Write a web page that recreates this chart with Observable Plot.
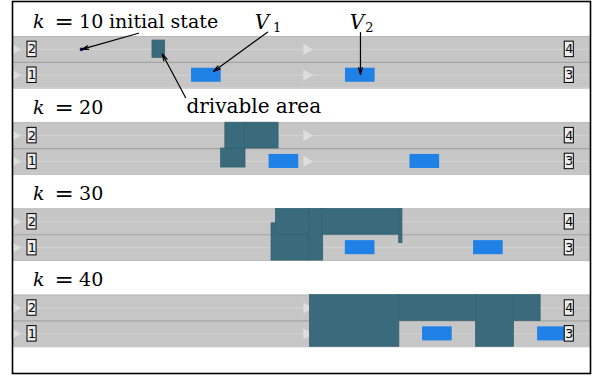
<!DOCTYPE html>
<html><head><meta charset="utf-8">
<script src="https://cdn.jsdelivr.net/npm/d3@7"></script>
<script src="https://cdn.jsdelivr.net/npm/@observablehq/plot@0.6"></script>
<style>body{margin:0;background:#fff}</style>
</head><body><div id="chart"></div>
<script>
// ---- data (road coordinates, metres) ----
const steps = [10, 20, 30, 40];
const laneIds = [1, 2];
const laneLabelLeft = ["1", "2"];
const laneLabelRight = ["3", "4"];
const laneWidth = 3.5;
const roadLength = 79;
const markerS = [0.3, 40.2];
const labelS = [2.67, 76.1];
const carLength = 4.05;
const carWidth = 1.9;
const v1Rear = [24.47, 35.07, 45.49, 56.05];
const v2Rear = [45.51, 54.33, 63.02, 71.77];
const initialS = 9.43;
const initialLane = 2;
// drivable area pieces
const areaStep = [10, 20, 20, 20, 30, 30, 30, 30, 30, 40, 40, 40, 40];
const areaS0 = [19.13, 28.51, 29.09, 31.79, 35.40, 35.99, 40.55, 42.33, 52.85, 40.64, 52.88, 63.34, 68.55];
const areaS1 = [20.87, 31.85, 31.79, 36.37, 40.55, 40.55, 42.47, 52.85, 53.30, 52.88, 63.34, 68.55, 72.19];
const areaL0 = [4.10, 0.92, 3.5, 3.5, 0, 3.5, 0, 3.5, 2.35, 0, 3.5, 0, 3.5];
const areaL1 = [6.45, 3.5, 7, 7, 5.05, 7, 7, 7, 7, 7, 7, 7, 7];

// ---- layout helpers ----
const panelGap = 11.68;
const base = k => 3.62 + (steps.length - 1 - steps.indexOf(k)) * panelGap;
const laneCenter = lane => (lane - 0.5) * laneWidth;
const roadTop = 2 * laneWidth;

const serif = "DejaVu Serif";
const rows = (arr1, arr2) => arr1.flatMap(a => arr2.map(b => ({a, b})));

const cars = steps.flatMap((k, i) => [
  {k, s: v1Rear[i]}, {k, s: v2Rear[i]}
]);
const areas = areaStep.map((k, i) => ({k, s0: areaS0[i], s1: areaS1[i], l0: areaL0[i], l1: areaL1[i]}));
const markers = steps.flatMap(k => laneIds.flatMap(l => markerS.map(s => ({k, l, s}))));
const labels = steps.flatMap(k => laneIds.flatMap((l, j) => [
  {k, l, s: labelS[0], t: laneLabelLeft[j]},
  {k, l, s: labelS[1], t: laneLabelRight[j]}
]));

const k0 = steps[0];
const arrows = [
  {s1: 17.22, l1: 7.44, s2: initialS, l2: laneCenter(initialLane), inset: 5},
  {s1: 34.85, l1: 7.58, s2: 27.47, l2: 2.26, inset: 0},
  {s1: 47.56, l1: 7.54, s2: 47.56, l2: 1.85, inset: 0},
  {s1: 23.65, l1: -1.27, s2: 20.46, l2: 4.65, inset: 0}
];

const titleY = k => base(k) + roadTop + 1.18;

const plot = Plot.plot({
  width: 597, height: 379,
  marginLeft: 12, marginRight: 7, marginTop: 1, marginBottom: 6,
  x: {domain: [0, roadLength], axis: null},
  y: {domain: [0, 50.4], axis: null},
  style: {background: "white", overflow: "visible"},
  marks: [
    // road
    Plot.rect(steps, {x1: () => 0, x2: () => roadLength, y1: k => base(k), y2: k => base(k) + roadTop, fill: "#c6c6c6"}),
    Plot.ruleY(rows(steps, [1.75, 5.25]), {y: d => base(d.a) + d.b, x1: () => 0, x2: () => roadLength, stroke: "#d3d3d3", strokeWidth: 1}),
    Plot.ruleY(rows(steps, [0, 7]), {y: d => base(d.a) + d.b, x1: () => 0, x2: () => roadLength, stroke: "#b9b9b9", strokeWidth: 1}),
    Plot.ruleY(rows(steps, [3.5]), {y: d => base(d.a) + d.b, x1: () => 0, x2: () => roadLength, stroke: "#a4a4a4", strokeWidth: 1.2}),
    Plot.dot(markers, {x: "s", y: d => base(d.k) + laneCenter(d.l), symbol: "triangle", rotate: 90, r: 4.2, fill: "#dedede", stroke: null}),
    // drivable area
    Plot.rect(areas, {x1: "s0", x2: "s1", y1: d => base(d.k) + d.l0, y2: d => base(d.k) + d.l1, fill: "#3a6b7c", stroke: "#34606f", strokeWidth: 0.7}),
    // vehicles
    Plot.rect(cars, {x1: "s", x2: d => d.s + carLength, y1: d => base(d.k) + laneCenter(1) - carWidth / 2, y2: d => base(d.k) + laneCenter(1) + carWidth / 2, fill: "#1f80e6"}),
    // initial state
    Plot.dot([k0], {x: () => initialS, y: k => base(k) + laneCenter(initialLane), r: 1.8, fill: "#10107a", stroke: null}),
    // lane labels
    Plot.rect(labels, {x1: d => d.s - 0.62, x2: d => d.s + 0.62, y1: d => base(d.k) + laneCenter(d.l) - 1.05, y2: d => base(d.k) + laneCenter(d.l) + 1.05, fill: "#ececec", stroke: "black", strokeWidth: 1}),
    Plot.text(labels, {x: "s", y: d => base(d.k) + laneCenter(d.l), text: "t", fontFamily: "DejaVu Sans", fontSize: 12.5, fill: "black"}),
    // titles
    Plot.text(steps, {x: () => 2.8, y: titleY, text: () => "k", textAnchor: "start", lineAnchor: "bottom", fontFamily: serif, fontStyle: "italic", fontSize: 19, fill: "black"}),
    Plot.text(steps, {x: () => 5.74, y: titleY, text: () => "=", textAnchor: "start", lineAnchor: "bottom", fontFamily: serif, fontSize: 23, fill: "black", dy: 1}),
    Plot.text(steps, {x: () => 9.1, y: titleY, text: k => `${k}`, textAnchor: "start", lineAnchor: "bottom", fontFamily: serif, fontSize: 19, fill: "black"}),
    Plot.text([k0], {x: () => 13.19, y: titleY, text: () => "initial state", textAnchor: "start", lineAnchor: "bottom", fontFamily: serif, fontSize: 19, fill: "black"}),
    Plot.text(["V", "V"], {x: (d, i) => [33.1, 46.1][i], y: () => base(k0) + 8.08, text: d => d, textAnchor: "start", lineAnchor: "bottom", fontFamily: serif, fontStyle: "italic", fontSize: 20, fill: "black"}),
    Plot.text(["1", "2"], {x: (d, i) => [35.6, 48.2][i], y: () => base(k0) + 7.67, text: d => d, textAnchor: "start", lineAnchor: "bottom", fontFamily: serif, fontSize: 13, fill: "black"}),
    Plot.text(["drivable area"], {x: () => 23.78, y: () => base(k0) - 3.3, text: d => d, textAnchor: "start", lineAnchor: "bottom", fontFamily: serif, fontSize: 20, fill: "black"}),
    // arrows
    Plot.arrow(arrows, {x1: "s1", y1: d => base(k0) + d.l1, x2: "s2", y2: d => base(k0) + d.l2, insetEnd: d => d.inset, stroke: "black", strokeWidth: 1.2, headLength: 9, headAngle: 30}),
    Plot.frame({stroke: "black", strokeWidth: 1.6})
  ]
});
document.getElementById("chart").appendChild(plot);
</script>
</body></html>
